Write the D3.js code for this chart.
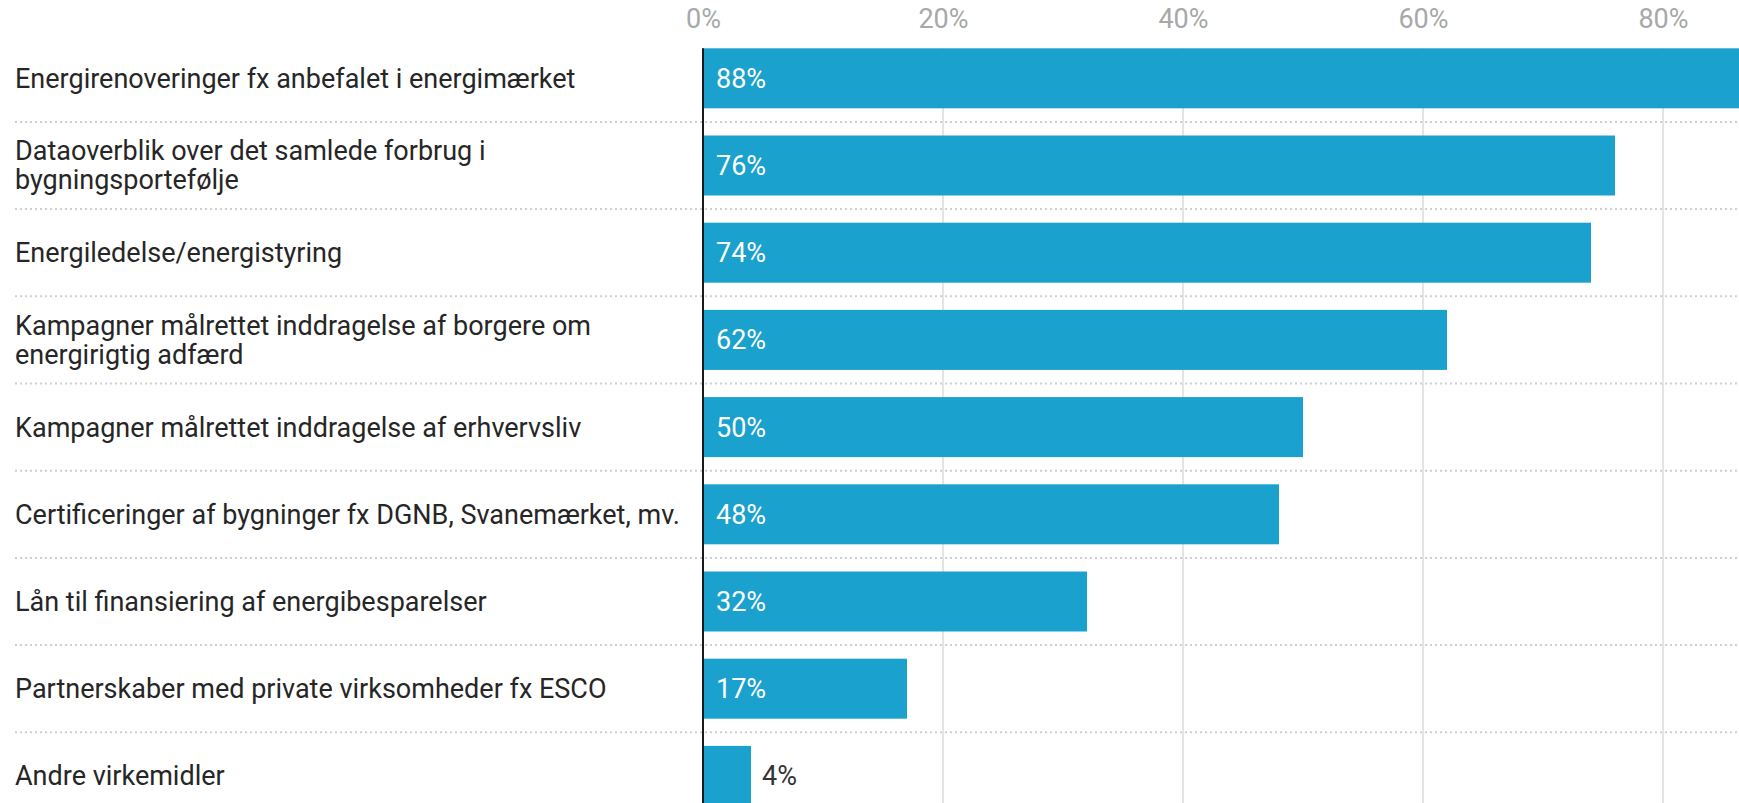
<!DOCTYPE html>
<html>
<head>
<meta charset="utf-8">
<script src="https://cdnjs.cloudflare.com/ajax/libs/d3/7.8.5/d3.min.js"></script>
<style>
    body { margin: 0; background: #fff; }
    svg { display: block; font-family: Roboto, 'Noto Sans', sans-serif; }
</style>
</head>
<body>
<div id="chart"></div>
<script>
var categories = [
    'Energirenoveringer fx anbefalet i energimærket',
    'Dataoverblik over det samlede forbrug i bygningsportefølje',
    'Energiledelse/energistyring',
    'Kampagner målrettet inddragelse af borgere om energirigtig adfærd',
    'Kampagner målrettet inddragelse af erhvervsliv',
    'Certificeringer af bygninger fx DGNB, Svanemærket, mv.',
    'Lån til finansiering af energibesparelser',
    'Partnerskaber med private virksomheder fx ESCO',
    'Andre virkemidler'
];
var values = [0.88, 0.76, 0.74, 0.62, 0.50, 0.48, 0.32, 0.17, 0.04];
var tickValues = [0, 0.2, 0.4, 0.6, 0.8];

var width = 1739;
var height = 803;
var fontSize = 27;
var labelX = 15;
var labelWidth = 680;

var svg = d3.select('#chart')
    .append('svg')
    .attr('width', width)
    .attr('height', height);

var x = d3.scaleLinear()
    .domain([0, 1])
    .range([703, 1903]);

var y = d3.scaleBand()
    .domain(categories)
    .range([34.7, 34.7 + 87.2 * categories.length])
    .paddingInner(0.312)
    .paddingOuter(0.156);

var plotTop = y(categories[0]);
var plotBottom = y.range()[1];

// gridlines, behind bars
svg.append('g')
    .selectAll('line')
    .data(tickValues.filter(function (d) { return d > 0; }))
    .enter()
    .append('line')
    .attr('x1', function (d) { return x(d); })
    .attr('x2', function (d) { return x(d); })
    .attr('y1', plotTop)
    .attr('y2', plotBottom)
    .attr('stroke', '#e4e4e4')
    .attr('stroke-width', 2);

// dotted separators between rows
svg.append('g')
    .selectAll('line')
    .data(categories.slice(1))
    .enter()
    .append('line')
    .attr('x1', labelX)
    .attr('x2', width)
    .attr('y1', function (d) { return y(d) - y.step() * y.paddingInner() / 2; })
    .attr('y2', function (d) { return y(d) - y.step() * y.paddingInner() / 2; })
    .attr('stroke', '#cfcfcf')
    .attr('stroke-width', 2)
    .attr('stroke-dasharray', '2,3');

// top axis
var axis = d3.axisTop(x)
    .tickValues(tickValues)
    .tickSize(0)
    .tickFormat(d3.format('.0%'));

var axis_g = svg.append('g')
    .attr('transform', 'translate(0, 22)')
    .call(axis);
axis_g.select('.domain').remove();
axis_g.selectAll('text')
    .attr('fill', '#a8a8a8')
    .attr('font-size', fontSize)
    .attr('font-family', 'Roboto, sans-serif')
    .attr('dy', '0.35em');

// bars
svg.append('g')
    .selectAll('rect')
    .data(values)
    .enter()
    .append('rect')
    .attr('x', x(0))
    .attr('y', function (d, i) { return y(categories[i]); })
    .attr('width', function (d) { return x(d) - x(0); })
    .attr('height', y.bandwidth())
    .attr('fill', '#1aa1cd');

// zero line
svg.append('line')
    .attr('x1', x(0))
    .attr('x2', x(0))
    .attr('y1', plotTop)
    .attr('y2', plotBottom)
    .attr('stroke', '#1a1a1a')
    .attr('stroke-width', 2);

// value labels
var pct = d3.format('.0%');
svg.append('g')
    .selectAll('text')
    .data(values)
    .enter()
    .append('text')
    .attr('font-size', fontSize)
    .attr('dy', '0.35em')
    .attr('y', function (d, i) { return y(categories[i]) + y.bandwidth() / 2; })
    .text(function (d) { return pct(d); })
    .each(function (d) {
        var barWidth = x(d) - x(0);
        var textWidth = this.getComputedTextLength();
        var sel = d3.select(this);
        if (textWidth + 26 < barWidth) {
            sel.attr('x', x(0) + 13).attr('fill', '#ffffff');
        } else {
            sel.attr('x', x(d) + 11).attr('fill', '#333333');
        }
    });

// category labels, wrapped
var wrap = function (textSel, maxWidth) {
    textSel.each(function () {
        var text = d3.select(this);
        var words = text.text().split(/\s+/);
        var lines = [];
        var line = [];
        text.text(null);
        var tspan = text.append('tspan');
        words.forEach(function (w) {
            line.push(w);
            tspan.text(line.join(' '));
            if (tspan.node().getComputedTextLength() > maxWidth && line.length > 1) {
                line.pop();
                lines.push(line.join(' '));
                line = [w];
            }
        });
        lines.push(line.join(' '));
        tspan.remove();
        var lineHeight = 29;
        var offset = -(lines.length - 1) * lineHeight / 2;
        lines.forEach(function (l, i) {
            text.append('tspan')
                .attr('x', labelX)
                .attr('dy', i === 0 ? offset : lineHeight)
                .text(l);
        });
    });
};

svg.append('g')
    .selectAll('text')
    .data(categories)
    .enter()
    .append('text')
    .attr('x', labelX)
    .attr('y', function (d) { return y(d) + y.bandwidth() / 2 + fontSize * 0.35; })
    .attr('fill', '#262626')
    .attr('font-size', fontSize)
    .text(function (d) { return d; })
    .call(wrap, labelWidth);
</script>
</body>
</html>
